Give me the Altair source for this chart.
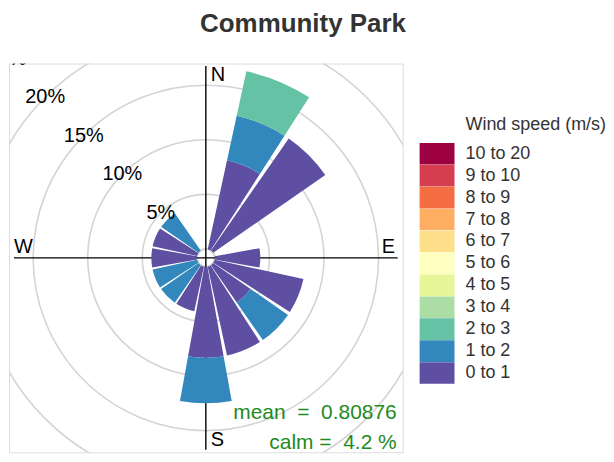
import math
import altair as alt
import pandas as pd

# ---- data ----
directions = [0, 22.5, 45, 67.5, 90, 112.5, 135, 157.5, 180, 202.5, 225, 247.5, 270, 292.5, 315, 337.5]
speed_bins = ["0 to 1", "1 to 2", "2 to 3", "3 to 4", "4 to 5", "5 to 6",
              "6 to 7", "7 to 8", "8 to 9", "9 to 10", "10 to 20"]
bin_colors = ["#5E4FA2", "#3288BD", "#66C2A5", "#ABDDA4", "#E6F598", "#FFFFBF",
              "#FEE08B", "#FDAE61", "#F46D43", "#D53E4F", "#9E0142"]
# frequency (%) per direction for each speed bin
pct_0_1 = [0, 8.33, 12.5, 0, 4.17, 8.33, 4.17, 8.33, 8.33, 4.17, 0, 0, 4.17, 4.17, 0, 0]
pct_1_2 = [0, 4.17, 0, 0, 0, 0, 4.17, 0, 4.17, 0, 4.17, 4.17, 0, 0, 4.17, 0]
pct_2_3 = [0, 4.17, 0, 0, 0, 0, 0, 0, 0, 0, 0, 0, 0, 0, 0, 0]

ring_values = [5, 10, 15, 20, 25]
ring_labels = ["5%", "10%", "15%", "20%", "25%"]
ring_label_angle = 315
compass_ns = ["N", "S"]
compass_ns_angles = [0, 180]
compass_we = ["W", "E"]
compass_we_angles = [270, 90]
axis_angles = [0, 90, 180, 270]
axis_extent = 16.76      # % units
compass_radius = 15.9    # % units
NB = "\u00a0"
mean_text = "mean" + NB * 2 + "=" + NB * 2 + "0.80876"
calm_text = "calm" + NB + "=" + NB * 2 + "4.2" + NB + "%"
title_text = "Community Park"
legend_title = "Wind speed (m/s)"

# ---- tables ----
rows = []
for series, name in [(pct_0_1, "0 to 1"), (pct_1_2, "1 to 2"), (pct_2_3, "2 to 3")]:
    for d, v in zip(directions, series):
        rows.append({"dir": d, "bin": name, "order": speed_bins.index(name), "pct": v})
bars_df = pd.DataFrame(rows)
rings_df = pd.DataFrame({"r": ring_values, "t0": [0] * len(ring_values), "t1": [360] * len(ring_values),
                         "label": ring_labels, "ang": [ring_label_angle] * len(ring_values)})
axis_df = pd.DataFrame({"ang": axis_angles, "ext": [axis_extent] * len(axis_angles)})
ns_df = pd.DataFrame({"label": compass_ns, "ang": compass_ns_angles, "r": [compass_radius] * 2})
we_df = pd.DataFrame({"label": compass_we, "ang": compass_we_angles, "r": [compass_radius] * 2})
mean_df = pd.DataFrame({"t": [mean_text]})
calm_df = pd.DataFrame({"t": [calm_text]})
legtitle_df = pd.DataFrame({"t": [legend_title]})
title_df = pd.DataFrame({"t": [title_text]})

FONT = "Liberation Sans"
theta_scale = alt.Scale(domain=[0, 360], range=[0, 2 * math.pi])
r_scale = alt.Scale(type="linear", domain=[0, 25], range=[9, 9 + 25 * 10.95], zero=False, nice=False)

rings = alt.Chart(rings_df).mark_arc(filled=False, color="#d4d4d4", strokeWidth=1.6, clip=True).encode(
    theta=alt.Theta("t0:Q", scale=theta_scale, stack=False),
    theta2="t1:Q",
    radius=alt.Radius("r:Q", scale=r_scale, stack=False),
)

axes_lines = alt.Chart(axis_df).mark_arc(filled=False, color="black", strokeWidth=1.4).encode(
    theta=alt.Theta("ang:Q", scale=theta_scale, stack=False),
    theta2="ang:Q",
    radius=alt.Radius("ext:Q", scale=r_scale, stack=False),
    radius2=alt.value(0),
)

bars = alt.Chart(bars_df).transform_filter("datum.pct > 0").transform_stack(
    stack="pct", groupby=["dir"], as_=["r0", "r1"], sort=[alt.SortField("order", order="ascending")]
).transform_calculate(
    t0="datum.dir - 11.25 + 1", t1="datum.dir + 11.25 - 1"
).mark_arc().encode(
    theta=alt.Theta("t0:Q", scale=theta_scale, stack=False),
    theta2="t1:Q",
    radius=alt.Radius("r1:Q", scale=r_scale, stack=False),
    radius2="r0:Q",
    color=alt.Color(
        "bin:N",
        scale=alt.Scale(domain=speed_bins[::-1], range=bin_colors[::-1]),
        legend=alt.Legend(
            title=None, orient="none", legendX=436, legendY=79.5,
            symbolType="M-3.226,-1H0V1H-3.226Z", symbolSize=471, symbolStrokeWidth=0,
            symbolOffset=0, labelOffset=0, rowPadding=0,
            labelFontSize=18, labelFont=FONT, labelColor="#333333",
            symbolOpacity=1, labelLimit=200,
        ),
    ),
)

ring_text = alt.Chart(rings_df).mark_text(clip=True, fontSize=20, font=FONT, color="black",
                                           align="center", baseline="middle").encode(
    theta=alt.Theta("ang:Q", scale=theta_scale, stack=False),
    radius=alt.Radius("r:Q", scale=r_scale, stack=False),
    text="label:N",
)

ns_text = alt.Chart(ns_df).mark_text(fontSize=20, font=FONT, color="black", align="left",
                                     baseline="middle", dx=5).encode(
    theta=alt.Theta("ang:Q", scale=theta_scale, stack=False),
    radius=alt.Radius("r:Q", scale=r_scale, stack=False),
    text="label:N",
)

we_text = alt.Chart(we_df).mark_text(fontSize=20, font=FONT, color="black", align="center",
                                     baseline="alphabetic", dy=-5).encode(
    theta=alt.Theta("ang:Q", scale=theta_scale, stack=False),
    radius=alt.Radius("r:Q", scale=r_scale, stack=False),
    text="label:N",
)

mean_mark = alt.Chart(mean_df).mark_text(fontSize=21, font=FONT, color="#228B22", align="right",
                                         baseline="alphabetic").encode(
    text="t:N", x=alt.value(389), y=alt.value(357)
)
calm_mark = alt.Chart(calm_df).mark_text(fontSize=21, font=FONT, color="#228B22", align="right",
                                         baseline="alphabetic").encode(
    text="t:N", x=alt.value(389), y=alt.value(387)
)
legend_title_mark = alt.Chart(legtitle_df).mark_text(fontSize=18, font=FONT, color="#333333", align="left",
                                                     baseline="alphabetic").encode(
    text="t:N", x=alt.value(458), y=alt.value(67)
)
title_mark = alt.Chart(title_df).mark_text(fontSize=26, font=FONT, fontWeight="bold", color="#333333",
                                           align="center", baseline="alphabetic").encode(
    text="t:N", x=alt.value(295), y=alt.value(-32)
)

chart = alt.layer(
    rings, axes_lines, bars, ring_text, ns_text, we_text, mean_mark, calm_mark,
    legend_title_mark, title_mark
).properties(
    width=395, height=390,
    padding={"left": 1, "top": 55, "right": 204, "bottom": 1},
    autosize=alt.AutoSizeParams(type="none"),
).configure_view(stroke="#404040", strokeWidth=1.5).configure(background="white")

chart.save("out.html", embed_options={"renderer": "svg", "actions": False})
